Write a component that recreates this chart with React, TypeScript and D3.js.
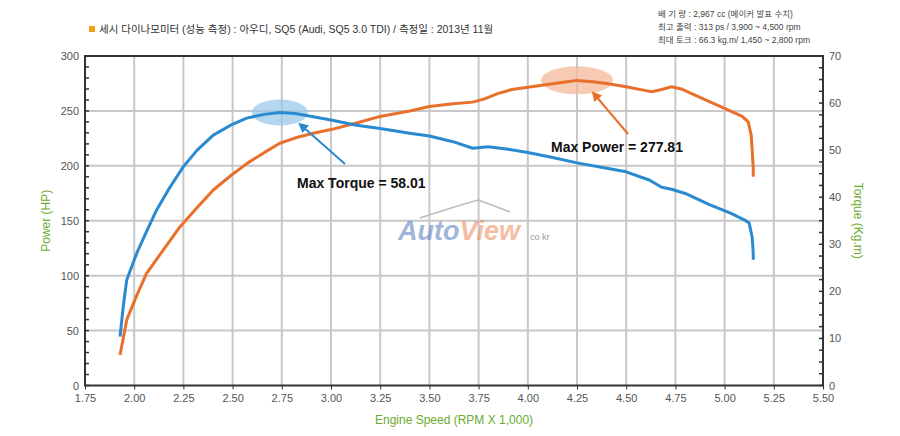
import { useEffect, useRef } from "react";
import * as d3 from "d3";

const rpmTicks = [1.75, 2.0, 2.25, 2.5, 2.75, 3.0, 3.25, 3.5, 3.75, 4.0, 4.25, 4.5, 4.75, 5.0, 5.25, 5.5];
const hpTicks = [0, 50, 100, 150, 200, 250, 300];
const torqueTicks = [0, 10, 20, 30, 40, 50, 60, 70];

const powerRpm = [1.928, 1.962, 2.013, 2.063, 2.15, 2.233, 2.32, 2.402, 2.49, 2.572, 2.66, 2.74, 2.82, 2.91, 3.0, 3.13, 3.25, 3.4, 3.5, 3.62, 3.72, 3.78, 3.85, 3.92, 4.0, 4.1, 4.2, 4.25, 4.33, 4.4, 4.5, 4.6, 4.63, 4.68, 4.73, 4.78, 4.83, 4.96, 5.09, 5.12, 5.135, 5.14, 5.145, 5.146];
const powerHp = [27.8, 59.7, 82, 102, 124, 144.6, 162, 178, 191, 202, 212, 220.6, 225.5, 229.7, 233, 239, 245, 250, 254, 256.5, 258, 261, 266, 269.5, 271.5, 274, 276.5, 277.8, 276.5, 275, 272, 268.5, 267.5, 269.5, 272, 270, 266, 255.5, 245, 240, 228, 215, 200, 190];

const torqueRpm = [1.928, 1.945, 1.962, 2.013, 2.06, 2.114, 2.18, 2.25, 2.32, 2.402, 2.49, 2.572, 2.66, 2.74, 2.82, 2.91, 3.0, 3.13, 3.25, 3.4, 3.5, 3.62, 3.72, 3.8, 3.9, 4.0, 4.12, 4.25, 4.38, 4.5, 4.62, 4.68, 4.73, 4.8, 4.92, 5.03, 5.1, 5.125, 5.14, 5.145, 5.146];
const torqueKgm = [10.4, 17, 22.4, 28.1, 32.5, 37.3, 42, 46.5, 50, 53.2, 55.3, 56.8, 57.6, 58.0, 57.8, 57.1, 56.4, 55.3, 54.6, 53.6, 53, 51.8, 50.4, 50.7, 50.2, 49.5, 48.5, 47.3, 46.3, 45.4, 43.6, 42.1, 41.7, 40.8, 38.5, 36.6, 35.2, 34.5, 31.5, 28.5, 26.7];

const headerText = "세시 다이나모미터 (성능 측정) :  아우디, SQ5  (Audi, SQ5 3.0 TDI) / 측정일 : 2013년 11월";
const specLines = [
  "배  기  량 : 2,967 cc    (메이커 발표 수치)",
  "최고 출력 : 313  ps / 3,900 ~ 4,500 rpm",
  "최대 토크 : 66.3 kg.m/ 1,450 ~ 2,800 rpm",
];

const W = 900;
const H = 436;
const FONT = "Arial, 'Liberation Sans', 'Noto Sans CJK KR', sans-serif";

export default function App() {
  const svgRef = useRef<SVGSVGElement | null>(null);

  useEffect(() => {
    const svg = d3.select(svgRef.current);
    svg.selectAll("*").remove();

    const left = 85, right = 823, top = 56, bottom = 385.5;
    const x = d3.scaleLinear().domain([1.75, 5.5]).range([left, right]);
    const yL = d3.scaleLinear().domain([0, 300]).range([bottom, top]);
    const yR = d3.scaleLinear().domain([0, 70]).range([bottom, top]);

    svg.append("rect").attr("width", W).attr("height", H).attr("fill", "#fff");

    // header
    svg.append("rect").attr("x", 89).attr("y", 26).attr("width", 6).attr("height", 6).attr("fill", "#f0a020");
    svg.append("text").attr("x", 99).attr("y", 33).attr("font-size", 10.5).attr("fill", "#333")
      .attr("font-family", FONT).text(headerText);
    specLines.forEach((s, i) =>
      svg.append("text").attr("x", 658).attr("y", 17 + i * 13).attr("font-size", 8.5).attr("fill", "#444")
        .attr("font-family", FONT).text(s)
    );

    // grid
    const g = svg.append("g");
    g.selectAll(".vg").data(rpmTicks.slice(1, -1)).enter().append("line")
      .attr("x1", (d) => x(d)).attr("x2", (d) => x(d)).attr("y1", top).attr("y2", bottom)
      .attr("stroke", "#c8c8c8").attr("stroke-width", 2);
    g.selectAll(".hg").data(hpTicks.slice(1, -1)).enter().append("line")
      .attr("x1", left).attr("x2", right).attr("y1", (d) => yL(d)).attr("y2", (d) => yL(d))
      .attr("stroke", "#c8c8c8").attr("stroke-width", 2);

    // watermark
    const wm = svg.append("text").attr("x", 398).attr("y", 240).attr("font-family", FONT)
      .attr("font-size", 27).attr("font-weight", "bold").attr("font-style", "italic").attr("opacity", 0.55);
    wm.append("tspan").attr("fill", "#5577bb").text("Auto");
    wm.append("tspan").attr("fill", "#ee8855").text("View");
    svg.append("text").attr("x", 530).attr("y", 240).attr("font-size", 9).attr("fill", "#999")
      .attr("font-family", FONT).text("co kr");
    svg.append("path").attr("d", "M420 218 Q 460 205 478 200 Q 500 208 510 212")
      .attr("fill", "none").attr("stroke", "#bbb").attr("stroke-width", 1.5);

    // ellipses
    svg.append("ellipse").attr("cx", x(2.74)).attr("cy", yR(58.01)).attr("rx", 28).attr("ry", 13)
      .attr("fill", "#9cc8ea").attr("opacity", 0.75);
    svg.append("ellipse").attr("cx", x(4.25)).attr("cy", yL(277.81)).attr("rx", 36).attr("ry", 14)
      .attr("fill", "#f3b89a").attr("opacity", 0.75);

    const lineP = d3.line<number>().x((_, i) => x(powerRpm[i])).y((d) => yL(d));
    const lineT = d3.line<number>().x((_, i) => x(torqueRpm[i])).y((d) => yR(d));
    svg.append("path").attr("d", lineP(powerHp)).attr("fill", "none").attr("stroke", "#e8702a")
      .attr("stroke-width", 3).attr("stroke-linejoin", "round");
    svg.append("path").attr("d", lineT(torqueKgm)).attr("fill", "none").attr("stroke", "#2a8ad0")
      .attr("stroke-width", 3).attr("stroke-linejoin", "round");

    // arrows
    const defs = svg.append("defs");
    [["ab", "#2a8ad0"], ["ao", "#e8702a"]].forEach(([id, c]) =>
      defs.append("marker").attr("id", id).attr("viewBox", "0 0 10 10").attr("refX", 5).attr("refY", 5)
        .attr("markerWidth", 5).attr("markerHeight", 5).attr("orient", "auto")
        .append("path").attr("d", "M0,0 L10,5 L0,10 z").attr("fill", c)
    );
    svg.append("line").attr("x1", 345).attr("y1", 164).attr("x2", 302).attr("y2", 126)
      .attr("stroke", "#2a8ad0").attr("stroke-width", 2).attr("marker-end", "url(#ab)");
    svg.append("line").attr("x1", 628).attr("y1", 134).attr("x2", 595).attr("y2", 95)
      .attr("stroke", "#e8702a").attr("stroke-width", 2).attr("marker-end", "url(#ao)");
    svg.append("text").attr("x", 297).attr("y", 188).attr("font-size", 14).attr("font-weight", "bold")
      .attr("font-family", FONT).attr("fill", "#111").text("Max Torque = 58.01");
    svg.append("text").attr("x", 551).attr("y", 152).attr("font-size", 14).attr("font-weight", "bold")
      .attr("font-family", FONT).attr("fill", "#111").text("Max Power = 277.81");

    // frame
    svg.append("rect").attr("x", left).attr("y", top).attr("width", right - left).attr("height", bottom - top)
      .attr("fill", "none").attr("stroke", "#333").attr("stroke-width", 2);

    // axes
    const styleAxis = (sel: d3.Selection<SVGGElement, unknown, null, undefined>) => {
      sel.select(".domain").remove();
      sel.selectAll("text").attr("font-size", 11).attr("fill", "#555").attr("font-family", FONT);
      sel.selectAll("line").attr("stroke", "#333");
    };
    const ax = svg.append("g").attr("transform", `translate(0,${bottom})`)
      .call(d3.axisBottom(x).tickValues(rpmTicks).tickFormat(d3.format(".2f")).tickSize(4).tickPadding(5));
    styleAxis(ax);
    const al = svg.append("g").attr("transform", `translate(${left},0)`)
      .call(d3.axisLeft(yL).tickValues(hpTicks).tickSize(0).tickPadding(6));
    styleAxis(al);
    const ar = svg.append("g").attr("transform", `translate(${right},0)`)
      .call(d3.axisRight(yR).tickValues(torqueTicks).tickSize(0).tickPadding(6));
    styleAxis(ar);
    // minor ticks
    svg.append("g").selectAll("line").data(d3.range(0, 301, 10)).enter().append("line")
      .attr("x1", left).attr("x2", left + 4).attr("y1", (d) => yL(d)).attr("y2", (d) => yL(d))
      .attr("stroke", "#333").attr("stroke-width", 1.5);
    svg.append("g").selectAll("line").data(d3.range(0, 70.1, 2.5)).enter().append("line")
      .attr("x1", right - 4).attr("x2", right).attr("y1", (d) => yR(d)).attr("y2", (d) => yR(d))
      .attr("stroke", "#333").attr("stroke-width", 1.5);

    // axis titles
    const green = "#6aab2e";
    svg.append("text").attr("transform", `translate(50,${(top + bottom) / 2}) rotate(-90)`)
      .attr("text-anchor", "middle").attr("font-size", 12).attr("fill", green).attr("font-family", FONT)
      .text("Power (HP)");
    svg.append("text").attr("transform", `translate(854,${(top + bottom) / 2}) rotate(90)`)
      .attr("text-anchor", "middle").attr("font-size", 12).attr("fill", green).attr("font-family", FONT)
      .text("Torque (Kg.m)");
    svg.append("text").attr("x", (left + right) / 2).attr("y", 424).attr("text-anchor", "middle")
      .attr("font-size", 12).attr("fill", green).attr("font-family", FONT)
      .text("Engine Speed (RPM X 1,000)");
  }, []);

  return (
    <svg ref={svgRef} width={W} height={H} style={{ position: "absolute", left: 0, top: 0 }} />
  );
}
